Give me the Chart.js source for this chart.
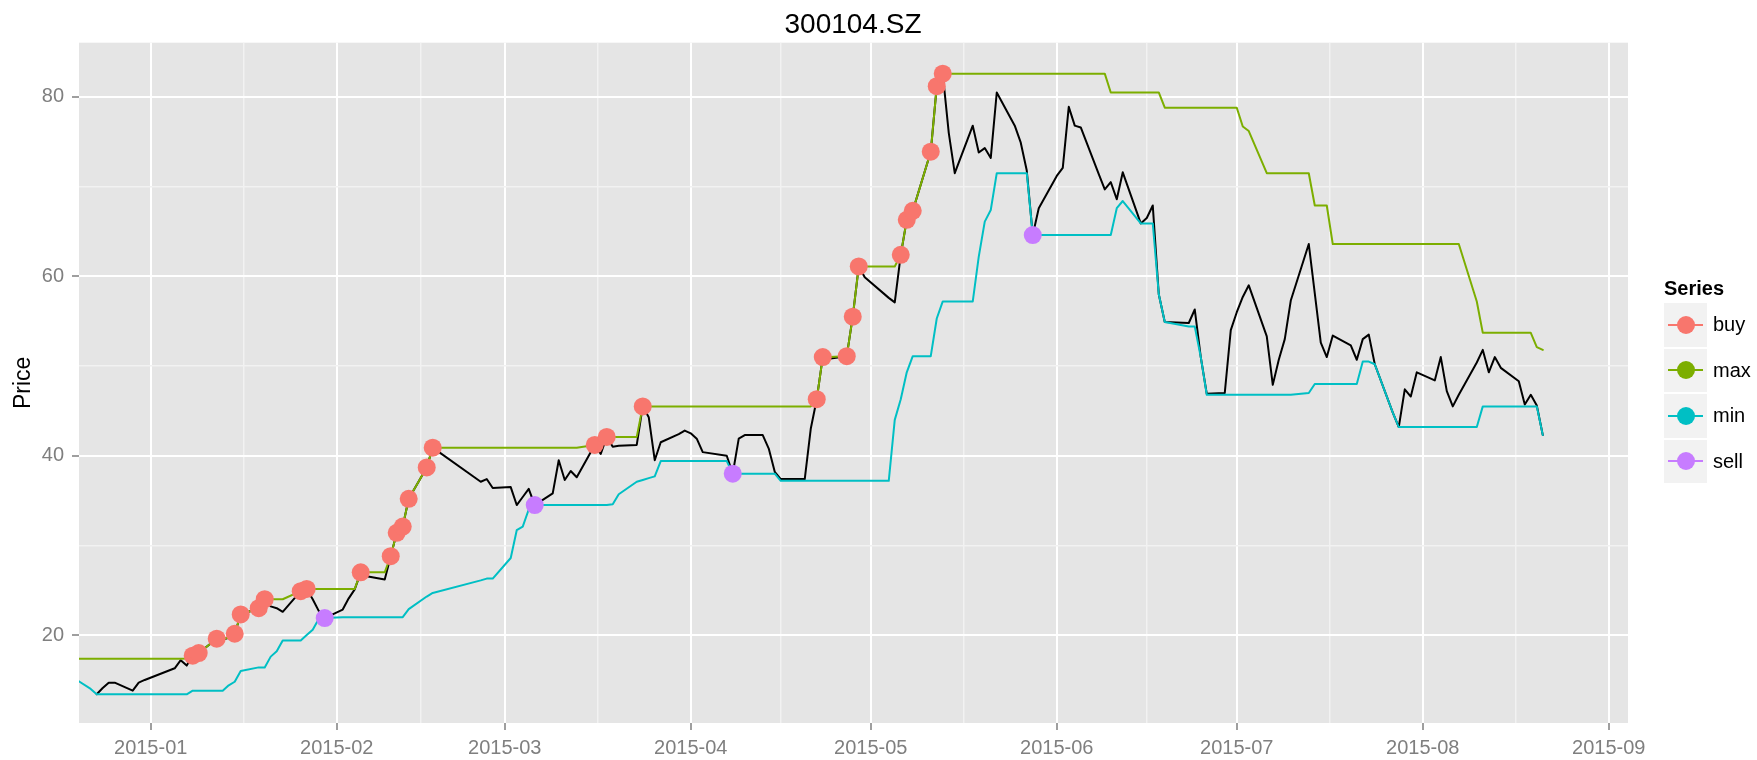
<!DOCTYPE html>
<html><head><meta charset="utf-8">
<script src="https://cdn.jsdelivr.net/npm/chart.js@4.4.1/dist/chart.umd.min.js"></script>
<style>
html,body{margin:0;padding:0;background:#fff;}
#wrap{position:relative;width:1757px;height:760px;overflow:hidden;font-family:"Liberation Sans",Arial,sans-serif;}
#c{position:absolute;left:0;top:0;}
#title{position:absolute;left:0;width:1706px;top:10.3px;text-align:center;font-size:28px;line-height:28px;color:#000;}
#legend{position:absolute;left:1664px;top:276px;width:90px;height:220px;}
#legend .lt{position:absolute;left:0;top:0;font-size:20px;line-height:24px;font-weight:bold;color:#000;}
#legend .key{position:absolute;left:0;width:43px;height:43.5px;background:#f2f2f2;}
#legend .ln{position:absolute;left:4px;width:35px;top:20.75px;height:2px;}
#legend .pt{position:absolute;left:12.5px;top:12.75px;width:18px;height:18px;border-radius:50%;}
#legend .lab{position:absolute;left:49px;height:43.5px;line-height:43.5px;font-size:20px;color:#000;}
</style></head>
<body>
<div id="wrap">
<canvas id="c" width="1757" height="760"></canvas>
<div id="title">300104.SZ</div>
<div id="legend"><div class="lt">Series</div></div>
</div>
<script>
// ---------------- data ----------------
const dates = [
'2014-12-19','2014-12-22','2014-12-23','2014-12-24','2014-12-25','2014-12-26','2014-12-29','2014-12-30','2014-12-31',
'2015-01-05','2015-01-06','2015-01-07','2015-01-08','2015-01-09','2015-01-12','2015-01-13','2015-01-14','2015-01-15','2015-01-16','2015-01-19','2015-01-20','2015-01-21','2015-01-22','2015-01-23','2015-01-26','2015-01-27','2015-01-28','2015-01-29','2015-01-30',
'2015-02-02','2015-02-03','2015-02-04','2015-02-05','2015-02-06','2015-02-09','2015-02-10','2015-02-11','2015-02-12','2015-02-13','2015-02-16','2015-02-17','2015-02-25','2015-02-26','2015-02-27',
'2015-03-02','2015-03-03','2015-03-04','2015-03-05','2015-03-06','2015-03-09','2015-03-10','2015-03-11','2015-03-12','2015-03-13','2015-03-16','2015-03-17','2015-03-18','2015-03-19','2015-03-20','2015-03-23','2015-03-24','2015-03-25','2015-03-26','2015-03-27','2015-03-30','2015-03-31',
'2015-04-01','2015-04-02','2015-04-03','2015-04-07','2015-04-08','2015-04-09','2015-04-10','2015-04-13','2015-04-14','2015-04-15','2015-04-16','2015-04-17','2015-04-20','2015-04-21','2015-04-22','2015-04-23','2015-04-24','2015-04-27','2015-04-28','2015-04-29','2015-04-30',
'2015-05-04','2015-05-05','2015-05-06','2015-05-07','2015-05-08','2015-05-11','2015-05-12','2015-05-13','2015-05-14','2015-05-15','2015-05-18','2015-05-19','2015-05-20','2015-05-21','2015-05-22','2015-05-25','2015-05-26','2015-05-27','2015-05-28','2015-05-29',
'2015-06-01','2015-06-02','2015-06-03','2015-06-04','2015-06-05','2015-06-08','2015-06-09','2015-06-10','2015-06-11','2015-06-12','2015-06-15','2015-06-16','2015-06-17','2015-06-18','2015-06-19','2015-06-23','2015-06-24','2015-06-25','2015-06-26','2015-06-29','2015-06-30',
'2015-07-01','2015-07-02','2015-07-03','2015-07-06','2015-07-07','2015-07-08','2015-07-09','2015-07-10','2015-07-13','2015-07-14','2015-07-15','2015-07-16','2015-07-17','2015-07-20','2015-07-21','2015-07-22','2015-07-23','2015-07-24','2015-07-27','2015-07-28','2015-07-29','2015-07-30','2015-07-31',
'2015-08-03','2015-08-04','2015-08-05','2015-08-06','2015-08-07','2015-08-10','2015-08-11','2015-08-12','2015-08-13','2015-08-14','2015-08-17','2015-08-18','2015-08-19','2015-08-20','2015-08-21'
];
const closePrice = [
null,null,13.4,14.1,14.7,14.7,13.8,14.7,15.0,
16.3,17.2,16.6,17.7,18.0,19.6,19.5,19.7,20.15,22.3,23.0,24.0,23.2,23.0,22.6,24.9,25.15,24.0,22.7,21.9,
22.85,24.1,25.1,27.0,26.55,26.2,28.8,31.4,32.1,35.2,38.7,40.9,37.1,37.4,36.4,
36.5,34.5,35.4,36.3,34.5,35.8,39.5,37.3,38.3,37.6,41.2,40.2,42.1,41.0,41.1,41.2,45.5,44.3,39.5,41.5,42.4,42.8,
42.5,41.9,40.4,40.0,38.0,41.9,42.3,42.3,40.8,38.2,37.4,37.4,37.4,43.0,46.3,51.0,50.8,51.1,55.5,61.1,59.9,
57.6,57.1,62.4,66.3,67.3,73.9,81.2,82.6,76.0,71.5,76.8,73.8,74.3,73.2,80.5,76.8,74.9,71.8,64.6,67.6,
71.2,72.1,78.9,76.8,76.6,71.4,69.7,70.5,68.6,71.6,65.9,66.5,67.9,58.0,54.9,54.8,56.3,51.0,46.9,47.0,54.0,
56.0,57.7,59.0,53.3,47.9,50.7,53.0,57.3,63.6,58.1,52.6,51.0,53.4,52.3,50.7,53.0,53.5,50.2,44.8,43.2,47.4,46.6,49.3,
48.4,51.0,47.2,45.5,46.8,50.4,51.8,49.3,51.0,49.8,48.3,45.7,46.8,45.6,42.3
];
const maxLine = [
17.37,17.37,17.37,17.37,17.37,17.37,17.37,17.37,17.37,
17.37,17.37,17.4,17.7,18.0,19.6,19.6,19.7,20.15,22.3,23.0,24.0,24.0,24.0,24.0,24.9,25.15,25.15,25.15,25.15,
25.15,25.15,25.15,27.0,27.0,27.0,28.8,31.4,32.1,35.2,38.7,40.9,40.9,40.9,40.9,
40.9,40.9,40.9,40.9,40.9,40.9,40.9,40.9,40.9,40.9,41.2,41.2,42.1,42.1,42.1,42.1,45.5,45.5,45.5,45.5,45.5,45.5,
45.5,45.5,45.5,45.5,45.5,45.5,45.5,45.5,45.5,45.5,45.5,45.5,45.5,45.5,46.3,51.0,51.0,51.1,55.5,61.1,61.1,
61.1,61.1,62.4,66.3,67.3,73.9,81.2,82.6,82.6,82.6,82.6,82.6,82.6,82.6,82.6,82.6,82.6,82.6,82.6,82.6,
82.6,82.6,82.6,82.6,82.6,82.6,82.6,80.5,80.5,80.5,80.5,80.5,80.5,80.5,78.8,78.8,78.8,78.8,78.8,78.8,78.8,
78.8,76.7,76.2,71.5,71.5,71.5,71.5,71.5,71.5,67.9,67.9,67.9,63.6,63.6,63.6,63.6,63.6,63.6,63.6,63.6,63.6,63.6,63.6,
63.6,63.6,63.6,63.6,63.6,57.2,53.7,53.7,53.7,53.7,53.7,53.7,53.7,52.1,51.8
];
const minLine = [
15.3,14.0,13.4,13.4,13.4,13.4,13.4,13.4,13.4,
13.4,13.4,13.4,13.8,13.8,13.8,13.8,14.4,14.8,16.0,16.4,16.4,17.6,18.2,19.4,19.4,20.0,20.6,21.8,21.9,
22.0,22.0,22.0,22.0,22.0,22.0,22.0,22.0,22.0,22.9,24.3,24.7,26.1,26.3,26.3,
28.6,31.7,32.1,34.0,34.5,34.5,34.5,34.5,34.5,34.5,34.5,34.5,34.5,34.6,35.7,37.1,37.3,37.5,37.7,39.4,39.4,39.4,
39.4,39.4,39.4,39.4,38.0,38.0,38.0,38.0,38.0,38.0,37.2,37.2,37.2,37.2,37.2,37.2,37.2,37.2,37.2,37.2,37.2,
37.2,44.0,46.3,49.3,51.1,51.1,55.3,57.2,57.2,57.2,57.2,62.2,66.1,67.4,71.5,71.5,71.5,71.5,64.6,64.6,
64.6,64.6,64.6,64.6,64.6,64.6,64.6,64.6,67.6,68.4,65.9,65.9,65.9,58.0,54.9,54.4,54.4,51.0,46.8,46.8,46.8,
46.8,46.8,46.8,46.8,46.8,46.8,46.8,46.8,47.0,48.0,48.0,48.0,48.0,48.0,48.0,50.5,50.5,50.2,44.8,43.2,43.2,43.2,43.2,
43.2,43.2,43.2,43.2,43.2,43.2,45.5,45.5,45.5,45.5,45.5,45.5,45.5,45.5,42.3
];
const buyDates = ['2015-01-08','2015-01-09','2015-01-12','2015-01-15','2015-01-16','2015-01-19','2015-01-20','2015-01-26','2015-01-27','2015-02-05','2015-02-10','2015-02-11','2015-02-12','2015-02-13','2015-02-16','2015-02-17','2015-03-16','2015-03-18','2015-03-24','2015-04-22','2015-04-23','2015-04-27','2015-04-28','2015-04-29','2015-05-06','2015-05-07','2015-05-08','2015-05-11','2015-05-12','2015-05-13'];
const buyPrices = [17.7,18.0,19.6,20.15,22.3,23.0,24.0,24.9,25.15,27.0,28.8,31.4,32.1,35.2,38.7,40.9,41.2,42.1,45.5,46.3,51.0,51.1,55.5,61.1,62.4,66.3,67.3,73.9,81.2,82.6];
const sellDates = ['2015-01-30','2015-03-06','2015-04-08','2015-05-28'];
const sellPrices = [21.9,34.5,38.0,64.6];
const monthTicks = ['2015-01-01','2015-02-01','2015-03-01','2015-04-01','2015-05-01','2015-06-01','2015-07-01','2015-08-01','2015-09-01'];
const yMajorTicks = [20,40,60,80];
const yMinorTicks = [30,50,70];
const seriesNames = ['buy','max','min','sell'];
const seriesColors = ['#F8766D','#7CAE00','#00BFC4','#C77CFF'];
const chartTitle = '300104.SZ';
const yTitle = 'Price';

// ---------------- helpers ----------------
const ORIGIN = Date.UTC(2015,0,1);
function dayNum(s){const p=s.split('-').map(Number);return (Date.UTC(p[0],p[1]-1,p[2])-ORIGIN)/86400000;}
const xMajor = monthTicks.map(dayNum);
const xMinor = xMajor.slice(1).map((v,i)=>(v+xMajor[i])/2);
const xTickVals = xMajor.concat(xMinor).sort((a,b)=>a-b);
const yTickVals = yMajorTicks.concat(yMinorTicks).sort((a,b)=>a-b);
const isXMaj = v => xMajor.indexOf(v) >= 0;
const isYMaj = v => yMajorTicks.indexOf(v) >= 0;

const X_MIN = -11.95, X_MAX = 246.2, Y_MIN = 10.2, Y_MAX = 86.05;

const xs = dates.map(dayNum);
const pricePts = xs.map((x,i)=>({x:x,y:closePrice[i]})).filter(p=>p.y!==null);
const maxPts = xs.map((x,i)=>({x:x,y:maxLine[i]}));
const minPts = xs.map((x,i)=>({x:x,y:minLine[i]}));
const buyPts = buyDates.map((d,i)=>({x:dayNum(d),y:buyPrices[i]}));
const sellPts = sellDates.map((d,i)=>({x:dayNum(d),y:sellPrices[i]}));
const col = n => seriesColors[seriesNames.indexOf(n)];

document.getElementById('title').textContent = chartTitle;
const leg = document.getElementById('legend');
seriesNames.forEach((n,i)=>{
  const top = 27 + i*45.5;
  const k = document.createElement('div'); k.className='key'; k.style.top = top+'px';
  k.innerHTML = '<div class="ln" style="background:'+seriesColors[i]+'"></div><div class="pt" style="background:'+seriesColors[i]+'"></div>';
  const l = document.createElement('div'); l.className='lab'; l.style.top = top+'px'; l.textContent = n;
  leg.appendChild(k); leg.appendChild(l);
});

const panelBg = {id:'panelBg', beforeDraw(chart){const a=chart.chartArea, c=chart.ctx; c.save(); c.fillStyle='#E5E5E5'; c.fillRect(a.left,a.top,a.right-a.left,a.bottom-a.top); c.restore();}};
const FONT = '"Liberation Sans", Arial, sans-serif';
const lineDs = (label,data,color,order)=>({label:label,data:data,showLine:true,borderColor:color,backgroundColor:color,borderWidth:2,pointRadius:0,pointHoverRadius:0,order:order,clip:0,borderJoinStyle:'round',borderCapStyle:'round'});
const ptDs = (label,data,color,order)=>({label:label,data:data,showLine:false,pointBackgroundColor:color,backgroundColor:color,pointBorderWidth:0,borderWidth:0,pointRadius:9,pointHoverRadius:9,order:order});

new Chart(document.getElementById('c'), {
  type:'scatter',
  data:{datasets:[
    ptDs('sell', sellPts, col('sell'), 0),
    ptDs('buy', buyPts, col('buy'), 1),
    lineDs('min', minPts, col('min'), 2),
    lineDs('max', maxPts, col('max'), 3),
    lineDs('price', pricePts, '#000000', 4)
  ]},
  options:{
    responsive:false, animation:false, devicePixelRatio:1, events:[],
    layout:{padding:{left:0,top:42.7,right:129,bottom:0}},
    plugins:{legend:{display:false}, tooltip:{enabled:false}, title:{display:false}},
    scales:{
      x:{type:'linear', min:X_MIN, max:X_MAX,
        afterFit(s){s.height=37;},
        afterBuildTicks(s){s.ticks = xTickVals.map(v=>({value:v}));},
        ticks:{autoSkip:false, maxRotation:0, minRotation:0, padding:6, color:'#7f7f7f', font:{family:FONT,size:20},
          callback:(v)=>{const i=xMajor.indexOf(v); return i>=0 ? monthTicks[i].slice(0,7) : '';}},
        grid:{color:c=>isXMaj(c.tick.value)?'#ffffff':'#f2f2f2', lineWidth:c=>isXMaj(c.tick.value)?2:1.5,
          tickLength:7, tickWidth:1.5, tickColor:c=>isXMaj(c.tick.value)?'#7f7f7f':'rgba(0,0,0,0)'},
        border:{display:false}
      },
      y:{type:'linear', min:Y_MIN, max:Y_MAX,
        afterFit(s){s.width=79;},
        afterBuildTicks(s){s.ticks = yTickVals.map(v=>({value:v}));},
        ticks:{autoSkip:false, padding:8, color:'#7f7f7f', font:{family:FONT,size:20},
          callback:(v)=> isYMaj(v) ? String(v) : ''},
        grid:{color:c=>isYMaj(c.tick.value)?'#ffffff':'#f2f2f2', lineWidth:c=>isYMaj(c.tick.value)?2:1.5,
          tickLength:7, tickWidth:1.5, tickColor:c=>isYMaj(c.tick.value)?'#7f7f7f':'rgba(0,0,0,0)'},
        border:{display:false},
        title:{display:true, text:yTitle, color:'#000', font:{family:FONT,size:23}, padding:{top:10,bottom:0}}
      }
    }
  },
  plugins:[panelBg]
});
</script>
</body></html>
